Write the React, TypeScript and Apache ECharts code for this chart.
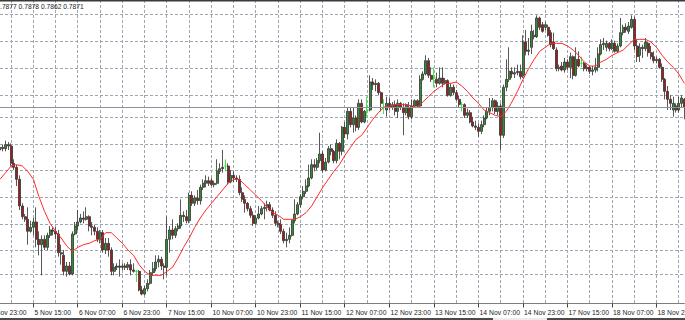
import React, { useEffect, useRef } from 'react';
import * as echarts from 'echarts';

// NZDUSD-style H1 chart. Prices are stored in 1e-4 units (pips).
const tickLabels = [
  '4 Nov 23:00', '5 Nov 15:00', '6 Nov 07:00', '6 Nov 23:00', '7 Nov 15:00',
  '10 Nov 07:00', '10 Nov 23:00', '11 Nov 15:00', '12 Nov 07:00', '12 Nov 23:00',
  '13 Nov 15:00', '14 Nov 07:00', '14 Nov 23:00', '17 Nov 15:00', '18 Nov 07:00', '18 Nov 23:00',
];
const hiddenBars = 4; // bars left of the visible window (4 Nov 23:00 .. 5 Nov 02:00)
const labelEvery = 16; // bars between time labels
const gridEvery = 8; // bars between vertical grid lines

const opens = [
  7839,7841,7840,7843,7842,7829,7826,7817,7797,7789,7787,7778,7781,7785,7772,7768,7772,7766,7775,7779,
  7778,7776,7762,7760,7748,7752,7746,7776,7782,7785,7788,7787,7789,7782,7781,7778,7772,7777,7764,7769,
  7764,7748,7751,7752,7751,7752,7751,7753,7749,7748,7748,7734,7731,7735,7739,7747,7750,7755,7757,7752,
  7751,7772,7779,7775,7780,7782,7790,7789,7786,7805,7799,7803,7801,7811,7814,7816,7816,7813,7814,7823,
  7825,7827,7827,7815,7820,7818,7817,7807,7802,7799,7795,7790,7784,7788,7791,7795,7796,7798,7794,7790,
  7784,7783,7778,7771,7772,7775,7786,7791,7798,7804,7808,7812,7818,7828,7826,7831,7836,7824,7830,7840,
  7838,7831,7844,7838,7856,7851,7868,7858,7863,7856,7874,7860,7869,7869,7890,7888,7889,7882,7871,7869,
  7874,7871,7873,7868,7874,7871,7867,7871,7864,7872,7876,7872,7892,7896,7906,7895,7893,7892,7889,7893,
  7889,7891,7880,7886,7882,7877,7873,7873,7865,7867,7860,7857,7856,7853,7858,7863,7868,7871,7876,7868,
  7872,7850,7886,7892,7898,7896,7897,7898,7895,7920,7913,7916,7925,7924,7938,7933,7931,7931,7927,7920,
  7914,7900,7902,7899,7905,7901,7909,7895,7907,7904,7904,7900,7901,7898,7899,7901,7911,7918,7916,7919,
  7915,7919,7913,7917,7927,7931,7928,7931,7937,7917,7910,7916,7915,7919,7912,7909,7906,7907,7901,7892,
  7883,7877,7869,7872,7869,7874,7877,
];
const closes = [
  7841,7840,7843,7842,7829,7826,7817,7797,7789,7787,7778,7781,7785,7772,7768,7772,7766,7775,7779,7778,
  7776,7762,7761,7748,7752,7746,7776,7782,7785,7788,7787,7789,7782,7781,7778,7772,7777,7764,7769,7764,
  7748,7751,7752,7751,7752,7751,7753,7749,7748,7748,7734,7731,7735,7739,7747,7750,7755,7757,7752,7751,
  7772,7779,7775,7780,7782,7790,7789,7786,7805,7799,7803,7801,7811,7814,7816,7814,7813,7814,7823,7825,
  7826,7827,7815,7820,7818,7817,7807,7802,7799,7795,7790,7784,7788,7791,7795,7796,7798,7794,7790,7784,
  7783,7778,7771,7772,7775,7786,7791,7798,7804,7808,7812,7818,7828,7826,7831,7836,7824,7830,7840,7838,
  7831,7844,7838,7856,7851,7868,7858,7863,7856,7874,7860,7868,7869,7890,7888,7889,7882,7874,7871,7874,
  7871,7873,7868,7874,7871,7867,7873,7864,7872,7876,7872,7892,7896,7906,7895,7892,7893,7889,7893,7889,
  7891,7880,7886,7882,7877,7873,7873,7865,7867,7860,7857,7856,7853,7858,7863,7868,7871,7876,7868,7872,
  7850,7886,7892,7898,7896,7897,7898,7894,7920,7913,7914,7928,7924,7938,7931,7928,7933,7925,7918,7915,
  7900,7901,7899,7905,7901,7909,7895,7907,7902,7904,7900,7901,7898,7899,7901,7911,7918,7919,7919,7915,
  7919,7913,7917,7927,7931,7929,7932,7937,7917,7909,7916,7915,7920,7912,7909,7906,7907,7901,7892,7883,
  7877,7874,7874,7869,7874,7878,7871,
];
const lows = [
  7835,7838,7838,7839,7827,7824,7812,7794,7787,7785,7768,7777,7775,7766,7760,7745,7764,7764,7773,7775,
  7772,7759,7753,7745,7744,7745,7745,7775,7779,7784,7784,7786,7778,7775,7775,7770,7769,7762,7761,7759,
  7745,7745,7749,7744,7749,7749,7749,7745,7747,7740,7733,7730,7730,7733,7738,7745,7748,7751,7749,7742,
  7745,7762,7772,7773,7778,7780,7785,7784,7784,7797,7797,7798,7798,7809,7811,7812,7812,7811,7813,7821,
  7822,7823,7813,7814,7815,7815,7805,7800,7792,7793,7788,7782,7783,7787,7790,7787,7793,7793,7788,7782,
  7781,7776,7769,7766,7769,7774,7784,7790,7796,7802,7806,7811,7817,7823,7824,7829,7822,7823,7829,7835,
  7829,7829,7832,7835,7848,7847,7856,7852,7853,7854,7859,7859,7864,7868,7884,7883,7880,7868,7866,7864,
  7869,7869,7865,7863,7869,7850,7865,7862,7862,7871,7871,7871,7891,7895,7893,7890,7886,7886,7888,7886,
  7888,7879,7879,7880,7876,7871,7868,7863,7863,7859,7856,7854,7849,7851,7856,7862,7865,7868,7866,7865,
  7839,7848,7883,7890,7893,7893,7895,7892,7893,7910,7910,7911,7922,7923,7929,7927,7929,7924,7916,7914,
  7898,7898,7898,7897,7899,7893,7892,7894,7901,7901,7898,7898,7896,7895,7897,7898,7910,7914,7913,7913,
  7914,7912,7912,7916,7925,7927,7926,7930,7914,7905,7905,7908,7913,7909,7907,7904,7904,7900,7890,7877,
  7869,7869,7864,7867,7867,7871,7862,
];
const highs = [
  7845,7843,7846,7845,7844,7832,7828,7820,7799,7791,7796,7786,7788,7796,7778,7775,7775,7777,7782,7781,
  7781,7779,7768,7764,7755,7755,7778,7785,7794,7791,7793,7796,7790,7785,7783,7781,7779,7779,7773,7773,
  7766,7754,7754,7757,7754,7754,7755,7757,7754,7749,7749,7737,7737,7742,7749,7755,7760,7760,7759,7754,
  7789,7782,7787,7782,7784,7802,7793,7794,7807,7808,7805,7809,7813,7817,7820,7819,7818,7816,7832,7829,
  7839,7832,7829,7824,7823,7820,7820,7811,7805,7800,7797,7793,7790,7797,7797,7799,7801,7800,7796,7793,
  7786,7787,7780,7777,7781,7787,7802,7800,7806,7812,7817,7828,7832,7832,7833,7852,7838,7833,7842,7843,
  7839,7847,7845,7857,7860,7871,7871,7871,7865,7877,7877,7869,7879,7895,7893,7892,7890,7883,7877,7879,
  7878,7875,7876,7877,7875,7874,7874,7875,7877,7877,7877,7895,7898,7910,7908,7901,7901,7897,7901,7901,
  7893,7892,7889,7888,7884,7880,7875,7874,7870,7869,7864,7861,7859,7861,7865,7871,7878,7878,7877,7875,
  7874,7888,7907,7916,7901,7901,7903,7903,7925,7929,7923,7933,7929,7940,7939,7935,7935,7933,7929,7927,
  7916,7903,7905,7908,7907,7912,7910,7916,7913,7909,7905,7903,7902,7902,7908,7916,7922,7923,7921,7920,
  7922,7921,7919,7938,7933,7934,7935,7940,7939,7922,7919,7918,7923,7920,7917,7913,7909,7908,7904,7893,
  7887,7880,7879,7874,7879,7880,7878,
];
// red moving-average line, read every second bar starting at the first visible bar
const maSamples = [
  7817,7822,7827,7828,7827,7823,7817,7804,7793,7784,7778,7773,7767,7763,7766,7768,7769,7771,7772,7777,
  7777,7773,7769,7764,7760,7753,7748,7745,7745,7745,7748,7751,7758,7766,7773,7781,7788,7794,7799,7804,
  7809,7814,7817,7817,7813,7809,7805,7801,7796,7792,7790,7787,7787,7787,7789,7792,7797,7804,7811,7817,
  7823,7828,7835,7841,7847,7850,7856,7862,7867,7871,7872,7873,7873,7873,7872,7871,7875,7879,7883,7886,
  7889,7889,7890,7887,7883,7878,7874,7869,7867,7865,7864,7868,7875,7883,7892,7900,7907,7913,7916,7919,
  7919,7919,7917,7914,7910,7905,7902,7902,7905,7907,7910,7912,7914,7918,7922,7922,7922,7920,7916,7910,
  7905,7901,7896,7889,
];
const gridLevels = [7940.5, 7920.2, 7900.3, 7880.25, 7863.5, 7843.5, 7823.25, 7803.3, 7783.3, 7763.25, 7745.8];
const lastPrice = 7871;
const yMin = 7724.25;
const yMax = 7951.5;
const headerText = '0.7877 0.7878 0.7862 0.7871';

const GRID_COLOR = '#9ea6b2';
const FONT = '"Liberation Sans", Arial, sans-serif';
const W = 685;
const H = 320;
const AXIS_BOTTOM = 17;

export default function App() {
  const ref = useRef<HTMLDivElement>(null);
  useEffect(() => {
    document.body.style.margin = '0';
    const chart = echarts.init(ref.current!, undefined, { renderer: 'svg', width: W, height: H });
    const n = hiddenBars + opens.length;
    const cats = Array.from({ length: n }, (_, i) => String(i));
    const candles: any[] = [];
    for (let i = 0; i < hiddenBars; i++) candles.push(['-', '-', '-', '-']);
    opens.forEach((o, i) => {
      candles.push([o / 1e4, closes[i] / 1e4, lows[i] / 1e4, highs[i] / 1e4]);
    });
    const ma = maSamples.map((v, j) => [hiddenBars + 2 * j, v / 1e4]);

    chart.setOption({
      animation: false,
      backgroundColor: '#ffffff',
      grid: { left: -11.13, right: 0.6, top: 0, bottom: AXIS_BOTTOM, containLabel: false, outerBoundsMode: 'none' },
      xAxis: {
        type: 'category',
        data: cats,
        boundaryGap: false,
        axisLine: { show: true, lineStyle: { color: '#7d7d7d', width: 1 } },
        axisTick: { show: false },
        axisLabel: {
          show: true,
          interval: (i: number) => i % labelEvery === 0,
          formatter: (_v: string, i: number) => tickLabels[Math.round(i / labelEvery)] ?? '',
          align: 'left',
          margin: 6,
          fontSize: 6.8,
          fontFamily: FONT,
          color: '#1e1e1e',
          padding: [0, 0, 0, 1],
          hideOverlap: false,
        },
        splitLine: { show: false },
      },
      yAxis: {
        type: 'value',
        min: yMin / 1e4,
        max: yMax / 1e4,
        show: false,
        splitLine: { show: false },
      },
      series: [
        {
          type: 'candlestick',
          data: candles,
          barWidth: 2.5,
          z: 2,
          itemStyle: {
            color: '#2f8f2f',
            color0: '#a81818',
            borderColor: '#3a3a3a',
            borderColor0: '#3a3a3a',
            borderColorDoji: '#22e622',
            borderWidth: 0.85,
          },
        },
        {
          type: 'line',
          data: ma,
          showSymbol: false,
          symbol: 'none',
          z: 3,
          lineStyle: { color: '#ff2b2b', width: 1 },
        },
      ],
    });

    // grid lines, ticks and price line placed through the library's own scales
    const xPix = (i: number) => chart.convertToPixel({ xAxisIndex: 0 }, i) as number;
    const yPix = (v: number) => chart.convertToPixel({ yAxisIndex: 0 }, v / 1e4) as number;
    const crisp = (p: number) => Math.round(p - 0.5) + 0.5;
    const axisY = crisp(yPix(yMin));
    const plotTop = yPix(yMax);
    const g: any[] = [];
    for (let i = 0; i < n; i += gridEvery) {
      const x = crisp(xPix(i));
      g.push({
        type: 'line', z: 0, silent: true,
        shape: { x1: x, y1: plotTop, x2: x, y2: axisY },
        style: { stroke: GRID_COLOR, lineWidth: 1, lineDash: [3, 2] },
      });
    }
    gridLevels.forEach((v) => {
      const y = crisp(yPix(v));
      g.push({
        type: 'line', z: 0, silent: true,
        shape: { x1: 0, y1: y, x2: W, y2: y },
        style: { stroke: GRID_COLOR, lineWidth: 1, lineDash: [3, 2] },
      });
    });
    for (let i = 0; i < n; i += labelEvery) {
      const x = crisp(xPix(i));
      g.push({
        type: 'line', z: 5, silent: true,
        shape: { x1: x, y1: axisY, x2: x, y2: axisY + 4 },
        style: { stroke: '#444', lineWidth: 1 },
      });
    }
    const py = crisp(yPix(lastPrice));
    g.push({
      type: 'line', z: 10, silent: true,
      shape: { x1: 0, y1: py, x2: W, y2: py },
      style: { stroke: '#8b929c', lineWidth: 1 },
    });
    g.push({ type: 'rect', z: 100, silent: true, shape: { x: 0, y: 0, width: W, height: 1.5 }, style: { fill: '#3a3a3a' } });
    g.push({
      type: 'text', z: 100, silent: true, x: -3.7, y: 6,
      style: { text: headerText, font: `6.7px ${FONT}`, fill: '#222', verticalAlign: 'middle', align: 'left' },
    });
    g.push({ type: 'rect', z: 100, silent: true, shape: { x: 0, y: H - 2, width: W, height: 2 }, style: { fill: '#4a4a4a' } });
    g.push({ type: 'rect', z: 101, silent: true, shape: { x: 493, y: H - 2, width: 54, height: 2 }, style: { fill: '#ececec' } });
    chart.setOption({ graphic: g });

    return () => chart.dispose();
  }, []);
  return (
    <div
      ref={ref}
      style={{ position: 'fixed', left: 0, top: 0, width: W, height: H, background: '#fff' }}
    />
  );
}
